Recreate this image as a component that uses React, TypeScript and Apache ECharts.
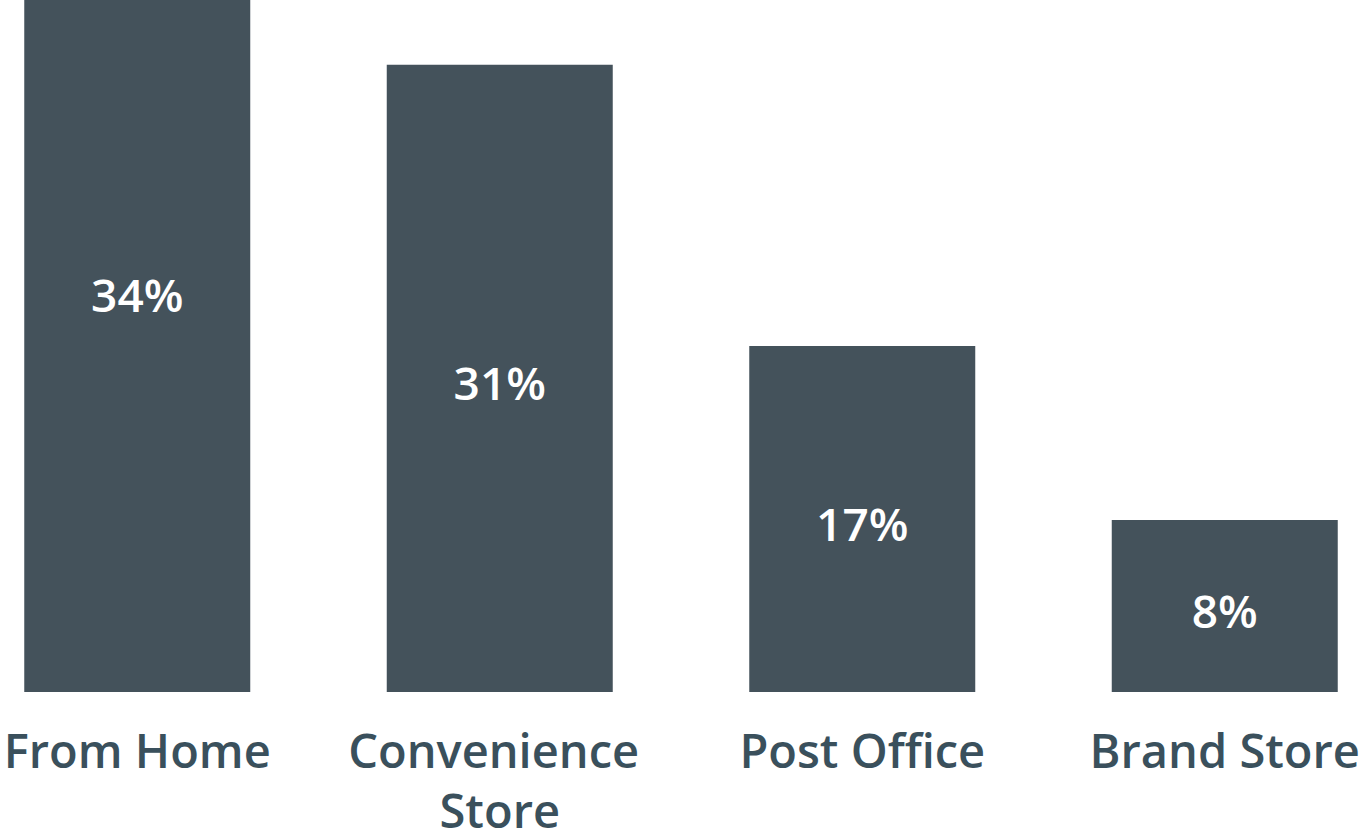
import React, { useEffect, useRef } from "react";
import * as echarts from "echarts";

const categories = ["From Home", "Convenience Store", "Post Office", "Brand Store"];
// bar heights as drawn (From Home bar runs past the top edge of the picture)
const values = [39.7, 31, 17.1, 8.5];
const valueLabels = ["34%", "31%", "17%", "8%"];

const BAR = "#44525b";
const TEXT = "#3a505c";
const FONT = "Open Sans";

export default function App() {
  const ref = useRef<HTMLDivElement>(null);
  useEffect(() => {
    if (!ref.current) return;
    const chart = echarts.init(ref.current, undefined, { renderer: "svg" });
    chart.setOption({
      animation: false,
      backgroundColor: "#ffffff",
      grid: {
        left: -44,
        right: -47,
        top: 0,
        bottom: 140,
        containLabel: false,
        outerBoundsMode: "none",
      },
      xAxis: {
        type: "category",
        data: categories,
        axisLine: { show: false },
        axisTick: { show: false },
        axisLabel: {
          color: TEXT,
          fontFamily: FONT,
          fontWeight: 600,
          fontSize: 47,
          lineHeight: 60,
          margin: 28,
          width: 330,
          overflow: "break",
          interval: 0,
        },
      },
      yAxis: {
        type: "value",
        min: 0,
        max: 34.2,
        show: false,
        splitLine: { show: false },
      },
      series: [
        {
          type: "bar",
          data: values,
          barWidth: 226,
          clip: false,
          itemStyle: { color: BAR },
          label: {
            show: true,
            position: "inside",
            offset: [0, 4],
            color: "#ffffff",
            fontFamily: FONT,
            fontWeight: 600,
            fontSize: 46,
            formatter: (p: any) => valueLabels[p.dataIndex],
          },
        },
      ],
    });
    return () => chart.dispose();
  }, []);
  return (
    <div
      ref={ref}
      style={{ position: "fixed", left: 0, top: 0, width: 1359, height: 832 }}
    />
  );
}
